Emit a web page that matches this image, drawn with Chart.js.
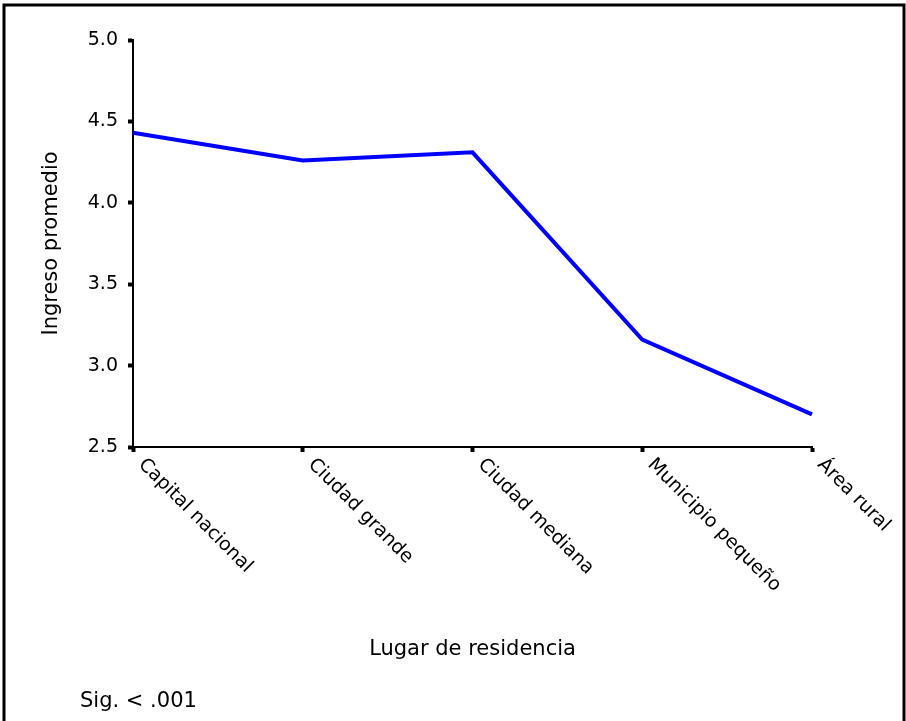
<!DOCTYPE html>
<html>
<head>
<meta charset="utf-8">
<title>Ingreso promedio por lugar de residencia</title>
<script src="https://cdn.jsdelivr.net/npm/chart.js@4.4.0/dist/chart.umd.min.js"></script>
<style>
    html, body { margin: 0; padding: 0; background: #ffffff; }
    #chart-wrap { width: 906px; height: 721px; }
</style>
</head>
<body>
<div id="chart-wrap">
    <canvas id="income-chart" width="906" height="721"></canvas>
</div>
<script>
// Chart data
const categories = ['Capital nacional', 'Ciudad grande', 'Ciudad mediana', 'Municipio pequeño', 'Área rural'];
const meanIncome = [4.43, 4.26, 4.31, 3.16, 2.70];
const yTicks = [2.5, 3.0, 3.5, 4.0, 4.5, 5.0];

const yTitle = 'Ingreso promedio';
const xTitle = 'Lugar de residencia';
const footNote = 'Sig. < .001';

const fontFamily = '"DejaVu Sans", Arial, sans-serif';

document.addEventListener('DOMContentLoaded', function() {
    const ctx = document.getElementById('income-chart').getContext('2d');

    // Frame, axis titles, rotated category labels and the note
    const decorations = {
        id: 'decorations',
        afterDraw(chart) {
            const c = chart.ctx;
            const area = chart.chartArea;
            const xScale = chart.scales.x;

            c.save();
            c.strokeStyle = '#000000';
            c.lineWidth = 3;
            c.beginPath();
            c.moveTo(4, chart.height);
            c.lineTo(4, 5);
            c.lineTo(904, 5);
            c.lineTo(904, chart.height);
            c.stroke();

            c.fillStyle = '#000000';

            // category labels, slanted downward to the right
            c.font = '19px ' + fontFamily;
            c.textAlign = 'left';
            c.textBaseline = 'top';
            categories.forEach((label, i) => {
                const px = xScale.getPixelForValue(i);
                c.save();
                c.translate(px + 15, area.bottom + 8);
                c.rotate(Math.PI / 4);
                c.fillText(label, 0, 0);
                c.restore();
            });

            // y axis title
            c.font = '21px ' + fontFamily;
            c.textAlign = 'center';
            c.textBaseline = 'middle';
            c.save();
            c.translate(52, (area.top + area.bottom) / 2);
            c.rotate(-Math.PI / 2);
            c.fillText(yTitle, 0, 0);
            c.restore();

            // x axis title
            c.fillText(xTitle, (area.left + area.right) / 2, 650);

            // significance note
            c.textAlign = 'left';
            c.fillText(footNote, 80, 702);
            c.restore();
        }
    };

    new Chart(ctx, {
        type: 'line',
        data: {
            labels: categories,
            datasets: [{
                data: meanIncome,
                borderColor: '#0000ff',
                borderWidth: 4,
                pointRadius: 0,
                tension: 0,
                fill: false
            }]
        },
        options: {
            responsive: false,
            animation: false,
            layout: {
                padding: { top: 40, right: 94, bottom: 0, left: 0 }
            },
            plugins: {
                legend: { display: false },
                tooltip: { enabled: false }
            },
            scales: {
                x: {
                    offset: false,
                    afterFit: function(scale) { scale.height = 274; },
                    ticks: { display: false },
                    grid: {
                        drawOnChartArea: false,
                        drawTicks: true,
                        tickLength: 5,
                        tickWidth: 4,
                        tickColor: '#000000'
                    },
                    border: { display: true, color: '#000000', width: 2 }
                },
                y: {
                    min: 2.5,
                    max: 5.0,
                    afterFit: function(scale) { scale.width = 133; },
                    afterBuildTicks: function(scale) {
                        scale.ticks = yTicks.map(v => ({ value: v }));
                    },
                    ticks: {
                        color: '#000000',
                        padding: 10,
                        font: { family: fontFamily, size: 19 },
                        callback: function(value) { return Number(value).toFixed(1); }
                    },
                    grid: {
                        drawOnChartArea: false,
                        drawTicks: true,
                        tickLength: 5,
                        tickWidth: 4,
                        tickColor: '#000000'
                    },
                    border: { display: true, color: '#000000', width: 2 }
                }
            }
        },
        plugins: [decorations]
    });
});
</script>
</body>
</html>
